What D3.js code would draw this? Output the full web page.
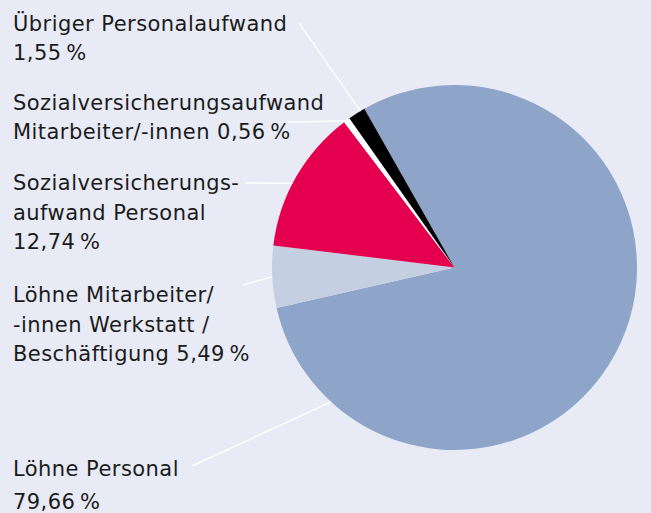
<!DOCTYPE html>
<html>
<head>
<meta charset="utf-8">
<script src="https://cdn.jsdelivr.net/npm/d3@7"></script>
<style>
  html, body { margin: 0; padding: 0; background: #e8ebf5; }
  svg { display: block; }
  .lbl { font-family: "DejaVu Sans", Inter, sans-serif; font-size: 21px; letter-spacing: 0.45px; fill: #1b1b1b; }
</style>
</head>
<body>
<div id="chart"></div>
<script>
// Personalaufwand breakdown (percent), in drawing order clockwise
const categories = [
  "Löhne Personal",
  "Löhne Mitarbeiter/-innen Werkstatt / Beschäftigung",
  "Sozialversicherungsaufwand Personal",
  "Sozialversicherungsaufwand Mitarbeiter/-innen",
  "Übriger Personalaufwand"
];
const values = [79.66, 5.49, 12.74, 0.56, 1.55];
const colors = ["#8fa4c9", "#c5cfe2", "#e4004f", "#ffffff", "#000000"];

// label text lines per slice (the value is appended where "{v}" stands)
const labelLines = [
  ["Löhne Personal", "{v}"],
  ["Löhne Mitarbeiter/", "-innen Werkstatt /", "Beschäftigung {v}"],
  ["Sozialversicherungs-", "aufwand Personal", "{v}"],
  ["Sozialversicherungsaufwand", "Mitarbeiter/-innen {v}"],
  ["Übriger Personalaufwand", "{v}"]
];

const W = 651, H = 513;
const cx = 454.5, cy = 267.5, R = 182.5;
const startDeg = -29.6;

const fmt = v => d3.format(".2f")(v).replace(".", ",") + "\u2009%";

// layout of labels: first baseline, line gaps, leader start and anchor angle on the rim
const labelLayout = [
  { y: 476, gaps: [33], lx: 192, ly: 466, angle: 222.6 },
  { y: 302, gaps: [30, 29], lx: 243, ly: 285, angle: null },
  { y: 190, gaps: [30, 29], lx: 245, ly: 183, angle: -62.5 },
  { y: 110, gaps: [29], lx: 287, ly: 122, angle: null },
  { y: 31, gaps: [29], lx: 299, ly: 23, angle: -31 }
];

const svg = d3.select("#chart").append("svg")
  .attr("width", W).attr("height", H)
  .attr("viewBox", `0 0 ${W} ${H}`);

svg.append("rect").attr("width", W).attr("height", H).attr("fill", "#e8ebf5");

const pie = d3.pie().sort(null)
  .startAngle(startDeg * Math.PI / 180)
  .endAngle((startDeg + 360) * Math.PI / 180);
const arcs = pie(values);

const arc = d3.arc().innerRadius(0).outerRadius(R);

const g = svg.append("g").attr("transform", `translate(${cx},${cy})`);
g.selectAll("path.slice").data(arcs).join("path")
  .attr("class", "slice")
  .attr("d", arc)
  .attr("fill", (d, i) => colors[i]);

// leader lines
function rimPoint(a) {
  return [cx + R * Math.sin(a), cy - R * Math.cos(a)];
}
labelLayout.forEach((L, i) => {
  const d = arcs[i];
  let a;
  if (L.angle !== null) a = L.angle * Math.PI / 180;
  else a = (d.startAngle + d.endAngle) / 2;
  let [x2, y2] = rimPoint(a);
  if (i === 3) y2 = L.ly - 1; // horizontal leader to the thin white slice
  svg.append("line")
    .attr("x1", L.lx).attr("y1", L.ly)
    .attr("x2", x2).attr("y2", y2)
    .attr("stroke", "#ffffff").attr("stroke-width", 1.4);
});

// labels
labelLayout.forEach((L, i) => {
  const t = svg.append("text").attr("class", "lbl").attr("x", 13).attr("y", L.y);
  let y = L.y;
  labelLines[i].forEach((line, j) => {
    if (j > 0) y += L.gaps[j - 1];
    t.append("tspan").attr("x", 13).attr("y", y).text(line.replace("{v}", fmt(values[i])));
  });
});
</script>
</body>
</html>
